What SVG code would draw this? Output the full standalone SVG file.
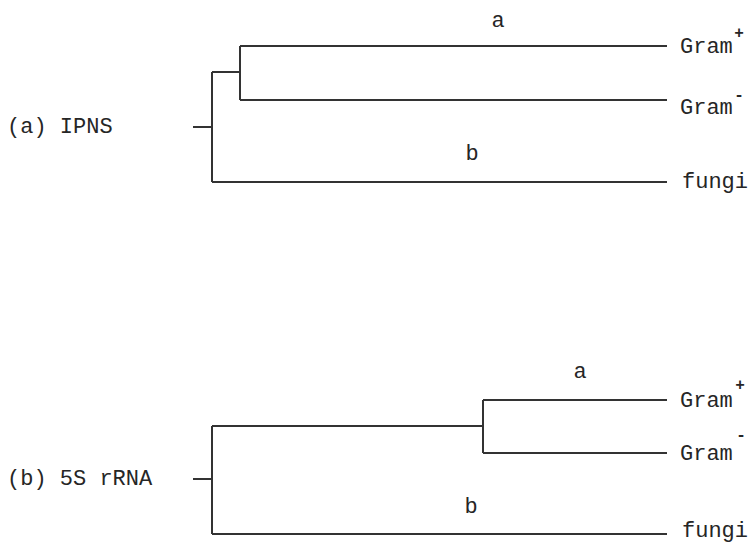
<svg xmlns="http://www.w3.org/2000/svg" width="748" height="543" viewBox="0 0 748 543">
<style>
.ln{stroke:#333;stroke-width:2;fill:none}
.t{font-family:"Liberation Mono","DejaVu Sans Mono",monospace;font-size:22px;fill:#262626}
.s{font-family:"Liberation Mono","DejaVu Sans Mono",monospace;font-size:16px;fill:#262626;text-anchor:middle;font-weight:bold}
.c{text-anchor:middle}
</style>
<rect width="748" height="543" fill="#fff"/>
<g id="connectors">
<path class="ln" d="M193 127H212M212 72V182M212 72H240M240 46V100M240 46H667M240 100H667M212 182H667"/>
<path class="ln" d="M193 479H212M212 426V534M212 426H483M483 400V453M483 400H667M483 453H667M212 534H667"/>
</g>
<g id="tree-a-title"><text class="t" x="7" y="133">(a) IPNS</text></g>
<g id="tree-b-title"><text class="t" x="7" y="485">(b) 5S rRNA</text></g>
<g id="a-label-a"><text class="t c" x="498" y="27">a</text></g>
<g id="a-label-b"><text class="t c" x="472" y="160">b</text></g>
<g id="a-gram-pos"><text class="t" x="680" y="53">Gram</text><text class="s" x="739" y="38">+</text></g>
<g id="a-gram-neg"><text class="t" x="680" y="114">Gram</text><text class="s" x="739" y="100">-</text></g>
<g id="a-fungi"><text class="t" x="682" y="188">fungi</text></g>
<g id="b-label-a"><text class="t c" x="580" y="378">a</text></g>
<g id="b-label-b"><text class="t c" x="471" y="513">b</text></g>
<g id="b-gram-pos"><text class="t" x="680" y="407">Gram</text><text class="s" x="740" y="390">+</text></g>
<g id="b-gram-neg"><text class="t" x="680" y="460">Gram</text><text class="s" x="741" y="440">-</text></g>
<g id="b-fungi"><text class="t" x="682" y="537">fungi</text></g>
</svg>
